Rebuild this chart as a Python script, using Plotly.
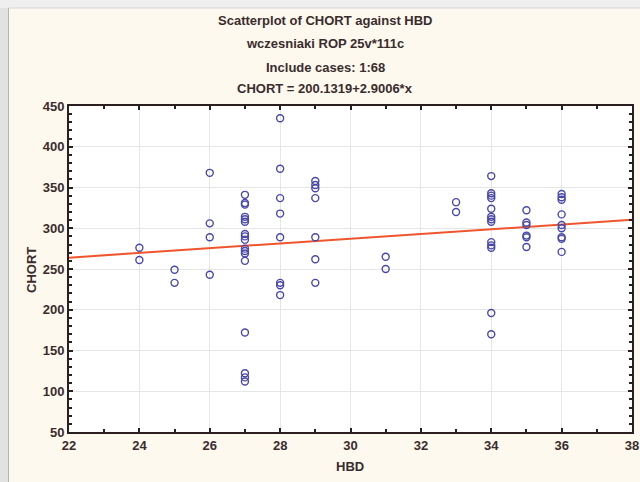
import plotly.graph_objects as go

# ---- data ----
hbd_values = [24, 25, 26, 27, 28, 29, 31, 33, 34, 35, 36]
chort_by_hbd = {
    24: [276, 261],
    25: [249, 233],
    26: [368, 306, 289, 243],
    27: [341, 331, 329, 314, 311, 308, 293, 290, 286, 275, 272, 269, 260, 172, 122, 117, 112],
    28: [435, 373, 337, 318, 289, 233, 230, 218],
    29: [358, 353, 349, 337, 289, 262, 233],
    31: [265, 250],
    33: [332, 320],
    34: [364, 343, 340, 337, 324, 314, 311, 308, 283, 279, 276, 196, 170],
    35: [322, 307, 304, 291, 289, 277],
    36: [342, 338, 335, 317, 304, 300, 289, 287, 271],
}
intercept = 200.1319
slope = 2.9006
x_ticks = [22, 24, 26, 28, 30, 32, 34, 36, 38]
y_ticks = [50, 100, 150, 200, 250, 300, 350, 400, 450]
title_lines = [
    "Scatterplot of CHORT against HBD",
    "wczesniaki ROP 25v*111c",
    "Include cases: 1:68",
    "CHORT = 200.1319+2.9006*x",
]

xs, ys = [], []
for h in hbd_values:
    for v in chort_by_hbd[h]:
        xs.append(h)
        ys.append(v)

fit_x = [x_ticks[0], x_ticks[-1]]
fit_y = [intercept + slope * v for v in fit_x]

# ---- layout geometry (pixels) ----
W, H = 640, 482
L, R, T, B = 69, 8, 106, 50
pw, ph = W - L - R, H - T - B

def px_x(p):
    return (p - L) / pw

def px_y(p):
    return (H - B - p) / ph

txt_color = "#3a2c2c"
font_family = "Liberation Sans, Arial, sans-serif"
lbl_font = dict(family=font_family, size=13, color=txt_color, weight="bold")

fig = go.Figure()
fig.add_trace(go.Scatter(
    x=fit_x, y=fit_y, mode="lines",
    line=dict(color="#f0552d", width=2),
    showlegend=False, hoverinfo="skip",
))
fig.add_trace(go.Scatter(
    x=xs, y=ys, mode="markers",
    marker=dict(symbol="circle-open", size=7, color="#4848aa", line=dict(width=1.4, color="#4848aa")),
    showlegend=False,
))

axis_common = dict(
    showline=True, linecolor="#2a1e1e", linewidth=2, mirror="ticks",
    ticks="inside", tickcolor="#2a1e1e", ticklen=4, tickwidth=1.5,
    showgrid=True, gridcolor="#e6e6e6", gridwidth=1,
    zeroline=False, automargin=False,
    tickfont=lbl_font,
)

fig.update_xaxes(
    range=[22, 38], tickvals=x_ticks,
    minor=dict(dtick=1, tick0=22, ticks="inside", ticklen=3, tickcolor="#2a1e1e", showgrid=False),
    **axis_common,
)
fig.update_yaxes(
    range=[50, 450], tickvals=y_ticks,
    minor=dict(dtick=10, tick0=50, ticks="inside", ticklen=3, tickcolor="#2a1e1e", showgrid=False),
    **axis_common,
)

annotations = []
for line, py in zip(title_lines, [21, 44, 67, 88]):
    annotations.append(dict(
        text=line, x=px_x(325), y=px_y(py), xref="paper", yref="paper",
        xanchor="center", yanchor="middle", showarrow=False,
        font=lbl_font,
    ))
annotations.append(dict(
    text="HBD", x=px_x(350), y=px_y(466), xref="paper", yref="paper",
    xanchor="center", yanchor="middle", showarrow=False,
    font=lbl_font,
))
annotations.append(dict(
    text="CHORT", x=px_x(31), y=px_y(270), xref="paper", yref="paper",
    xanchor="center", yanchor="middle", showarrow=False, textangle=-90,
    font=lbl_font,
))

shapes = [
    dict(type="rect", xref="paper", yref="paper", x0=px_x(0), x1=px_x(9),
         y0=px_y(H), y1=px_y(0), fillcolor="#e2e2e2", line=dict(width=0), layer="below"),
    dict(type="rect", xref="paper", yref="paper", x0=px_x(0), x1=px_x(W),
         y0=px_y(8), y1=px_y(0), fillcolor="#efefef", line=dict(width=0), layer="below"),
    dict(type="line", xref="paper", yref="paper", x0=px_x(8.5), x1=px_x(8.5),
         y0=px_y(H), y1=px_y(8), line=dict(color="#b4b4b4", width=1), layer="below"),
    dict(type="line", xref="paper", yref="paper", x0=px_x(8.5), x1=px_x(W),
         y0=px_y(8), y1=px_y(8), line=dict(color="#d4d4d4", width=1), layer="below"),
]

fig.update_layout(
    width=W, height=H,
    margin=dict(l=L, r=R, t=T, b=B, pad=0, autoexpand=False),
    paper_bgcolor="#fdf9ee",
    plot_bgcolor="#ffffff",
    annotations=annotations,
    shapes=shapes,
    font=dict(family=font_family, size=13, color=txt_color),
)

fig.write_html(
    "out.html",
    config={"displayModeBar": False},
    post_script="document.body.style.margin='0px'; document.body.style.overflow='hidden';",
)
